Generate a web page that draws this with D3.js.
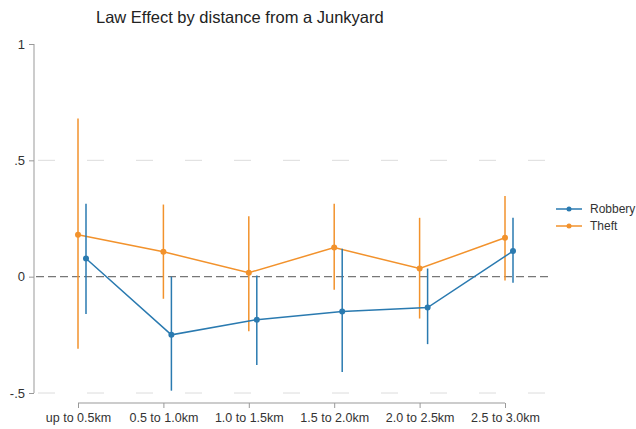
<!DOCTYPE html>
<html>
<head>
<meta charset="utf-8">
<script src="https://cdn.jsdelivr.net/npm/d3@7"></script>
<style>
  body { margin: 0; background: #fff; }
  svg { font-family: Arial, "Liberation Sans", sans-serif; }
</style>
</head>
<body>
<svg id="chart" width="636" height="429"></svg>
<script>
// data
const categories = ["up to 0.5km", "0.5 to 1.0km", "1.0 to 1.5km", "1.5 to 2.0km", "2.0 to 2.5km", "2.5 to 3.0km"];
const robberyEst = [0.078, -0.25, -0.185, -0.15, -0.133, 0.11];
const robberyLo = [-0.16, -0.49, -0.38, -0.41, -0.29, -0.026];
const robberyHi = [0.313, 0.0, 0.005, 0.12, 0.035, 0.253];
const theftEst = [0.18, 0.107, 0.017, 0.125, 0.035, 0.167];
const theftLo = [-0.31, -0.095, -0.235, -0.056, -0.18, -0.017];
const theftHi = [0.68, 0.31, 0.26, 0.313, 0.253, 0.347];
const yTicks = [1, 0.5, 0, -0.5];
const yTickLabels = ["1", ".5", "0", "-.5"];

const series = [
  {name: "Robbery", est: robberyEst, lo: robberyLo, hi: robberyHi, color: "#2a7ab0", dx: 8},
  {name: "Theft", est: theftEst, lo: theftLo, hi: theftHi, color: "#f2922c", dx: 0}
];

const svg = d3.select("#chart");

const x = d3.scalePoint().domain(categories).range([78, 505]);
const y = d3.scaleLinear().domain([-0.5, 1]).range([393, 44]);

// title
svg.append("text")
  .attr("x", 96).attr("y", 23)
  .attr("font-size", 16.5).attr("fill", "#222")
  .text("Law Effect by distance from a Junkyard");

// reference lines at .5 and -.5
svg.selectAll(".grid")
  .data([0.5, -0.5])
  .enter().append("line")
  .attr("x1", 38).attr("x2", 548)
  .attr("y1", d => y(d)).attr("y2", d => y(d))
  .attr("stroke", "#dcdcdc").attr("stroke-width", 1)
  .attr("stroke-dasharray", "17,32");

// zero line
svg.append("line")
  .attr("x1", 36).attr("x2", 550)
  .attr("y1", y(0)).attr("y2", y(0))
  .attr("stroke", "#777").attr("stroke-width", 1.1)
  .attr("stroke-dasharray", "8,4");

// y axis
const yAxis = d3.axisLeft(y)
  .tickValues(yTicks)
  .tickFormat((d, i) => yTickLabels[i])
  .tickSize(5).tickPadding(4);
const gy = svg.append("g").attr("transform", "translate(34,0)").call(yAxis);
gy.select(".domain").attr("stroke", "#999").attr("d", `M0,${y(1)}V${y(-0.5)}`);
gy.selectAll(".tick line").attr("stroke", "#999");
gy.selectAll(".tick text").attr("font-size", 13).attr("fill", "#333")
  .attr("font-family", "Arial, 'Liberation Sans', sans-serif");

// x axis
const xAxis = d3.axisBottom(x).tickSize(5).tickPadding(5);
const gx = svg.append("g").attr("transform", "translate(0,403)").call(xAxis);
gx.select(".domain").attr("stroke", "#999").attr("d", `M${x(categories[0])},0H${x(categories[5])}`);
gx.selectAll(".tick line").attr("stroke", "#999");
gx.selectAll(".tick text").attr("font-size", 12.5).attr("fill", "#333")
  .attr("font-family", "Arial, 'Liberation Sans', sans-serif");

// series: CI bars, connecting line, markers
series.slice().reverse().forEach(s => {
  const g = svg.append("g");
  g.selectAll("line.ci")
    .data(categories)
    .enter().append("line")
    .attr("x1", (d) => x(d) + s.dx).attr("x2", (d) => x(d) + s.dx)
    .attr("y1", (d, i) => y(s.hi[i])).attr("y2", (d, i) => y(s.lo[i]))
    .attr("stroke", s.color).attr("stroke-width", 1.5);
  const line = d3.line()
    .x((d, i) => x(categories[i]) + s.dx)
    .y(d => y(d));
  g.append("path")
    .attr("d", line(s.est))
    .attr("fill", "none").attr("stroke", s.color).attr("stroke-width", 1.5);
  g.selectAll("circle")
    .data(s.est)
    .enter().append("circle")
    .attr("cx", (d, i) => x(categories[i]) + s.dx)
    .attr("cy", d => y(d))
    .attr("r", 3)
    .attr("fill", s.color);
});

// legend
const legend = svg.append("g").attr("transform", "translate(556,209)");
series.forEach((s, i) => {
  const row = legend.append("g").attr("transform", `translate(0,${i * 17})`);
  row.append("line").attr("x1", 0).attr("x2", 26).attr("y1", 0).attr("y2", 0)
    .attr("stroke", s.color).attr("stroke-width", 1.5);
  row.append("circle").attr("cx", 13).attr("cy", 0).attr("r", 2.5).attr("fill", s.color);
  row.append("text").attr("x", 34).attr("y", 4)
    .attr("font-size", 12).attr("fill", "#333").text(s.name);
});
</script>
</body>
</html>
